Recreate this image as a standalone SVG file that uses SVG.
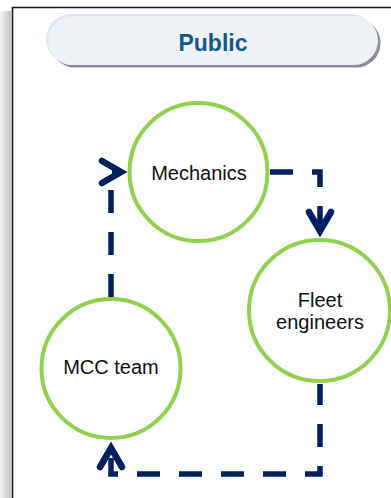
<svg xmlns="http://www.w3.org/2000/svg" width="391" height="498" viewBox="0 0 391 498">
  <defs>
    <linearGradient id="sideShadow" x1="0" y1="0" x2="1" y2="0">
      <stop offset="0" stop-color="#f4f4f4"/>
      <stop offset="1" stop-color="#c4c4c4"/>
    </linearGradient>
    <marker id="chev" markerUnits="userSpaceOnUse" markerWidth="40" markerHeight="40" refX="0" refY="0" orient="auto" overflow="visible">
      <path d="M -19 -11 L 0 0 L -19 11" fill="none" stroke="#002060" stroke-width="6.5" stroke-linejoin="miter" stroke-linecap="round"/>
    </marker>
    <style>
      .node { fill: #ffffff; stroke: #92d050; stroke-width: 4; }
      .lbl { font-family: "Liberation Sans", Arial, sans-serif; font-size: 20px; fill: #111111; text-anchor: middle; }
      .conn { fill: none; stroke: #002060; stroke-width: 5.5; stroke-dasharray: 23 19; stroke-linejoin: miter; marker-end: url(#chev); }
    </style>
  </defs>

  <rect x="0" y="0" width="391" height="498" fill="#ffffff"/>
  <!-- frame -->
  <g id="frame">
    <rect x="0" y="11" width="11" height="487" fill="url(#sideShadow)"/>
    <path d="M 12.5 498 V 7.5 H 391" fill="none" stroke="#1a1a1a" stroke-width="1.6"/>
  </g>

  <!-- title pill -->
  <g id="title">
    <rect x="50.5" y="18.5" width="330" height="49" rx="24.5" fill="#8c8aa3"/>
    <rect x="46" y="14" width="330" height="50" rx="25" fill="#e4e2f8"/>
    <rect x="48" y="16" width="330" height="49" rx="24.5" fill="#eef2f6"/>
    <text x="213" y="51" font-family="'Liberation Sans', Arial, sans-serif" font-size="23" font-weight="bold" fill="#0f5a8c" text-anchor="middle">Public</text>
  </g>

  <!-- connectors -->
  <g id="connectors">
    <path class="conn" d="M 270 172 H 320 V 231"/>
    <path class="conn" stroke-dashoffset="2" d="M 320 384 V 474 H 111 V 448"/>
    <path class="conn" d="M 111 297 V 172 H 121"/>
  </g>

  <g id="mechanics">
    <circle class="node" cx="198.5" cy="172" r="69"/>
    <text class="lbl" x="199" y="180">Mechanics</text>
  </g>

  <g id="fleet-engineers">
    <circle class="node" cx="319.5" cy="310.5" r="70.5"/>
    <text class="lbl" x="320" y="307">Fleet</text>
    <text class="lbl" x="320" y="329">engineers</text>
  </g>

  <g id="mcc-team">
    <circle class="node" cx="111" cy="368.5" r="69.5"/>
    <text class="lbl" x="111" y="374">MCC team</text>
  </g>
</svg>
